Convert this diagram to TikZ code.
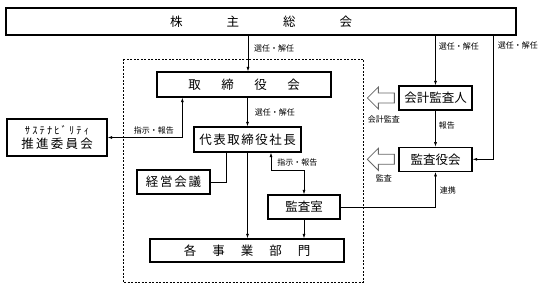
\documentclass[tikz,border=0pt]{standalone}
\usepackage{fontspec}
\setmainfont{Noto Sans CJK JP}
\usetikzlibrary{arrows.meta,positioning}

\begin{document}
\begin{tikzpicture}[
    x=1pt, y=-1pt,
    box/.style={rectangle, draw=black, line width=1.3pt, inner sep=0pt, text centered, font=\fontsize{12.5}{14}\selectfont},
    lbl/.style={inner sep=1pt, font=\fontsize{8}{9}\selectfont},
    line/.style={line width=0.6pt},
    arrow/.style={line width=0.6pt, ->, >={Latex[length=4.5pt,width=3pt]}},
    twoway/.style={line width=0.6pt, <->, >={Latex[length=4.5pt,width=3pt]}},
    hollow/.style={draw=black!60, fill=white, line width=0.8pt},
    frame/.style={dash pattern=on 2pt off 1.5pt, line width=0.6pt}
]
\useasboundingbox (0,0) rectangle (543,288);

% 株主総会
\node (soukai) [box, minimum width=510pt, minimum height=27pt] at (261,21.5) {株\hspace{44pt}主\hspace{44pt}総\hspace{44pt}会};

% 点線枠（社内）
\draw [frame] (123,59) rectangle (363,282);

% 社内の機関
\node (torishimari) [box, minimum width=174pt, minimum height=25pt] at (244,84.5) {取\hspace{20.5pt}締\hspace{20.5pt}役\hspace{20.5pt}会};
\node (daihyo) [box, minimum width=107pt, minimum height=25pt] at (247.5,139.5) {\addfontfeature{LetterSpace=12}代表取締役社長};
\node (keiei) [box, minimum width=73pt, minimum height=24pt] at (173.5,182) {\addfontfeature{LetterSpace=14}経営会議};
\node (kansashitsu) [box, minimum width=72pt, minimum height=24pt] at (304,207) {監査室};
\node (kakujigyo) [box, minimum width=194pt, minimum height=23pt] at (247,250.5) {各\hspace{16pt}事\hspace{16pt}業\hspace{16pt}部\hspace{16pt}門};

% サステナビリティ推進委員会
\node (sustain) [box, align=center, minimum width=100pt, minimum height=37pt] at (57,137.5) {{\fontsize{10.5}{12}\selectfont\addfontfeature{LetterSpace=20}ｻｽﾃﾅﾋﾞﾘﾃｨ}\\{\addfontfeature{LetterSpace=18}推進委員会}};

% 監査
\node (kaikei) [box, minimum width=73pt, minimum height=24pt] at (435.5,98) {会計監査人};
\node (kansayaku) [box, minimum width=73pt, minimum height=24pt, below=36pt of kaikei] {監査役会};

% 白抜き矢印
\foreach \n in {kaikei,kansayaku}
  \draw [hollow] ([xshift=-4pt]\n.west) ++(0,-5) -- ++(-16,0) -- ++(0,-6) -- ++(-11,11) -- ++(11,11) -- ++(0,-6) -- ++(16,0) -- cycle;
\node (kaikeilbl) [lbl] at ([xshift=-14.5pt,yshift=-21pt]kaikei.west) {会計監査};
\node (kansalbl) [lbl] at ([xshift=-14.5pt,yshift=-19pt]kansayaku.west) {監査};

% 矢印
\draw [arrow] ([xshift=4pt]torishimari.north |- soukai.south) -- ([xshift=4pt]torishimari.north);
\node [lbl, anchor=west] at ([xshift=9pt,yshift=-12.5pt]soukai.south -| torishimari.north) {選任・解任};
\draw [arrow] (daihyo.north |- torishimari.south) -- node[lbl, right=6pt] {選任・解任} (daihyo.north);
\draw [arrow] (kaikei.north |- soukai.south) -- node[lbl, pos=0.22, right=2pt] {選任・解任} (kaikei.north);
\draw [arrow] ([xshift=-23pt]soukai.south east) |- node[lbl, pos=0.04, right=3pt] {選任・解任} (kansayaku.east);
\draw [arrow] (kaikei) -- node[lbl, pos=0.42, right=2pt] {報告} (kansayaku);
\draw [arrow] (kansashitsu.east) -| node[lbl, pos=0.74, right=3pt] {連携} (kansayaku.south);
\draw [twoway] ([xshift=26pt]torishimari.south west) |- node[lbl, pos=0.69, above=2pt] {指示・報告} (sustain.east);
\draw [line] ([xshift=-21.5pt]daihyo.south) |- (keiei.east);
\draw [arrow] (daihyo.south) -- (daihyo.south |- kakujigyo.north);
\draw [twoway] ([xshift=23.5pt]daihyo.south) -- node[lbl, pos=0.55, right=5pt] {指示・報告} ++(0,18) -| (kansashitsu.north);
\draw [arrow] (kansashitsu.south) -- (kansashitsu.south |- kakujigyo.north);

\end{tikzpicture}
\end{document}
